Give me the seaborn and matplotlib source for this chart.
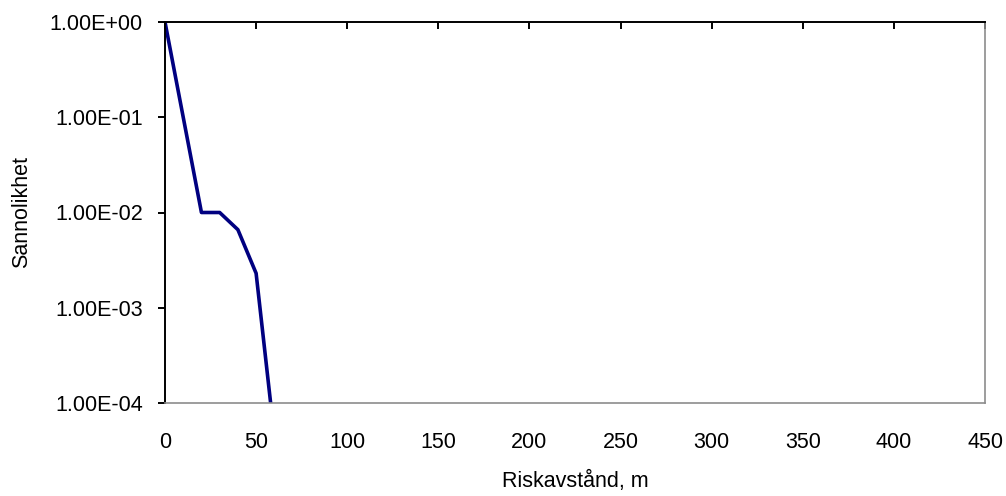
import matplotlib
matplotlib.use("Agg")
import matplotlib.pyplot as plt
import matplotlib.ticker as mticker
import seaborn as sns
import pandas as pd

# Data
distance_m = [0, 20, 30, 40, 50, 60]
probability = [1.0, 0.01, 0.01, 0.0066, 0.0023, 4.5e-5]
x_ticks = [0, 50, 100, 150, 200, 250, 300, 350, 400, 450]
y_ticks = [1e-4, 1e-3, 1e-2, 1e-1, 1e0]
x_label = "Riskavstånd, m"
y_label = "Sannolikhet"

sns.set_style("white")
plt.rcParams["font.family"] = ["Liberation Sans", "DejaVu Sans"]

df = pd.DataFrame({"x": distance_m, "y": probability})

fig = plt.figure(figsize=(10.06, 4.96), dpi=100)
ax = fig.add_axes([165 / 1006, 1 - 403 / 496, (985 - 165) / 1006, (403 - 22) / 496])
ax.set_yscale("log")

sns.lineplot(data=df, x="x", y="y", ax=ax, color="#000080", linewidth=2.6, clip_on=True)

ax.set_xlim(0, 450)
ax.set_ylim(1e-4, 1)
ax.set_xticks(x_ticks)
ax.set_yticks(y_ticks)
ax.yaxis.set_minor_locator(mticker.NullLocator())
ax.xaxis.set_minor_locator(mticker.NullLocator())
ax.yaxis.set_major_formatter(mticker.FuncFormatter(lambda v, p: f"{v:.2E}"))
ax.xaxis.set_major_formatter(mticker.FuncFormatter(lambda v, p: f"{int(v)}"))

for side in ["top", "left"]:
    ax.spines[side].set_visible(True)
    ax.spines[side].set_color("black")
    ax.spines[side].set_linewidth(1.4)
for side in ["bottom", "right"]:
    ax.spines[side].set_visible(True)
    ax.spines[side].set_color("#8c8c8c")
    ax.spines[side].set_linewidth(1.2)

fs = 15.5
ax.tick_params(axis="x", bottom=False, top=True, direction="in", length=5,
               width=1.4, color="black", labelbottom=True, labeltop=False,
               pad=21, labelsize=fs, labelcolor="black")
ax.tick_params(axis="y", left=True, right=False, direction="out", length=5,
               width=1.4, color="black", pad=11, labelsize=fs, labelcolor="black")

ax.set_xlabel(x_label, fontsize=fs, labelpad=13, color="black")
ax.set_ylabel(y_label, fontsize=fs, labelpad=13, color="black")
ax.grid(False)

fig.savefig("out.png", dpi=100)
